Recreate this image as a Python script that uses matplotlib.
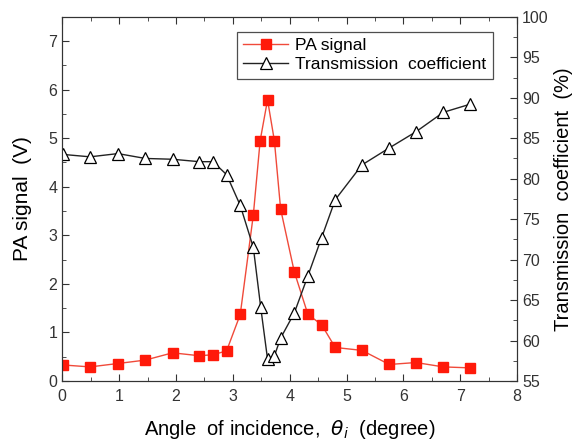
import matplotlib
matplotlib.use('Agg')
import matplotlib.pyplot as plt
from matplotlib.ticker import MultipleLocator

plt.rcParams['font.family'] = ['Liberation Sans', 'DejaVu Sans']

# angle of incidence (degree)
angle = [0.01, 0.49, 0.98, 1.46, 1.94, 2.41, 2.65, 2.89, 3.13, 3.36, 3.48,
         3.61, 3.73, 3.84, 4.08, 4.32, 4.56, 4.80, 5.27, 5.75, 6.22, 6.70, 7.17]

# PA signal (V)
pa_signal = [0.33, 0.29, 0.36, 0.43, 0.58, 0.52, 0.54, 0.62, 1.37, 3.42, 4.95,
             5.79, 4.95, 3.54, 2.25, 1.37, 1.16, 0.69, 0.63, 0.34, 0.38, 0.29, 0.27]

# transmission coefficient (%)
angle_t = [0.01, 0.49, 0.98, 1.46, 1.94, 2.41, 2.65, 2.89, 3.13, 3.36, 3.49,
           3.61, 3.73, 3.84, 4.08, 4.32, 4.56, 4.80, 5.27, 5.75, 6.22, 6.70, 7.17]
transmission = [83.0, 82.7, 83.1, 82.5, 82.4, 82.1, 82.1, 80.5, 76.7, 71.5, 64.1,
                57.7, 58.1, 60.3, 63.4, 68.0, 72.7, 77.4, 81.7, 83.8, 85.8, 88.2, 89.2]

fig = plt.figure(figsize=(5.76, 4.43), dpi=100)
ax1 = fig.add_axes([0.108, 0.140, 0.790, 0.822])
ax2 = ax1.twinx()

l1, = ax1.plot(angle, pa_signal, '-', color='#f04a3a', lw=1.0,
               marker='s', ms=6.5, mfc='#ff1a0a', mec='#ff1a0a', label='PA signal')
l2, = ax2.plot(angle_t, transmission, '-', color='#222222', lw=1.0,
               marker='^', ms=8, mfc='white', mec='black', mew=0.9,
               label='Transmission  coefficient')

ax1.set_xlim(0, 8)
ax1.set_ylim(0, 7.5)
ax2.set_ylim(55, 100)

ax1.xaxis.set_major_locator(MultipleLocator(1))
ax1.xaxis.set_minor_locator(MultipleLocator(0.5))
ax1.yaxis.set_major_locator(MultipleLocator(1))
ax1.yaxis.set_minor_locator(MultipleLocator(0.5))
ax2.yaxis.set_major_locator(MultipleLocator(5))
ax2.yaxis.set_minor_locator(MultipleLocator(2.5))

ax1.tick_params(axis='both', which='both', direction='in', labelsize=11.5, colors='#333333')
ax1.tick_params(axis='x', which='both', top=True, pad=6)
ax1.tick_params(which='major', length=5)
ax1.tick_params(which='minor', length=3)
ax2.tick_params(axis='y', which='both', direction='in', labelsize=11.5, colors='#333333')
ax2.tick_params(which='major', length=5)
ax2.tick_params(which='minor', length=3)

for ax in (ax1, ax2):
    for sp in ax.spines.values():
        sp.set_color('#333333')

ax1.set_xlabel(r'Angle  of incidence,  $\theta_i$  (degree)', fontsize=14.5, labelpad=10)
ax1.set_ylabel('PA signal  (V)', fontsize=15, labelpad=12)
ax2.set_ylabel('Transmission  coefficient  (%)', fontsize=14.5, labelpad=4)

leg = ax2.legend(handles=[l1, l2], loc='upper right', bbox_to_anchor=(0.965, 0.983),
                 fontsize=12.5, frameon=True, fancybox=False, borderpad=0.35,
                 handlelength=2.6, handletextpad=0.4, labelspacing=0.25)
leg.get_frame().set_edgecolor('#222222')
leg.get_frame().set_linewidth(0.9)

fig.savefig('out.png', dpi=100)
